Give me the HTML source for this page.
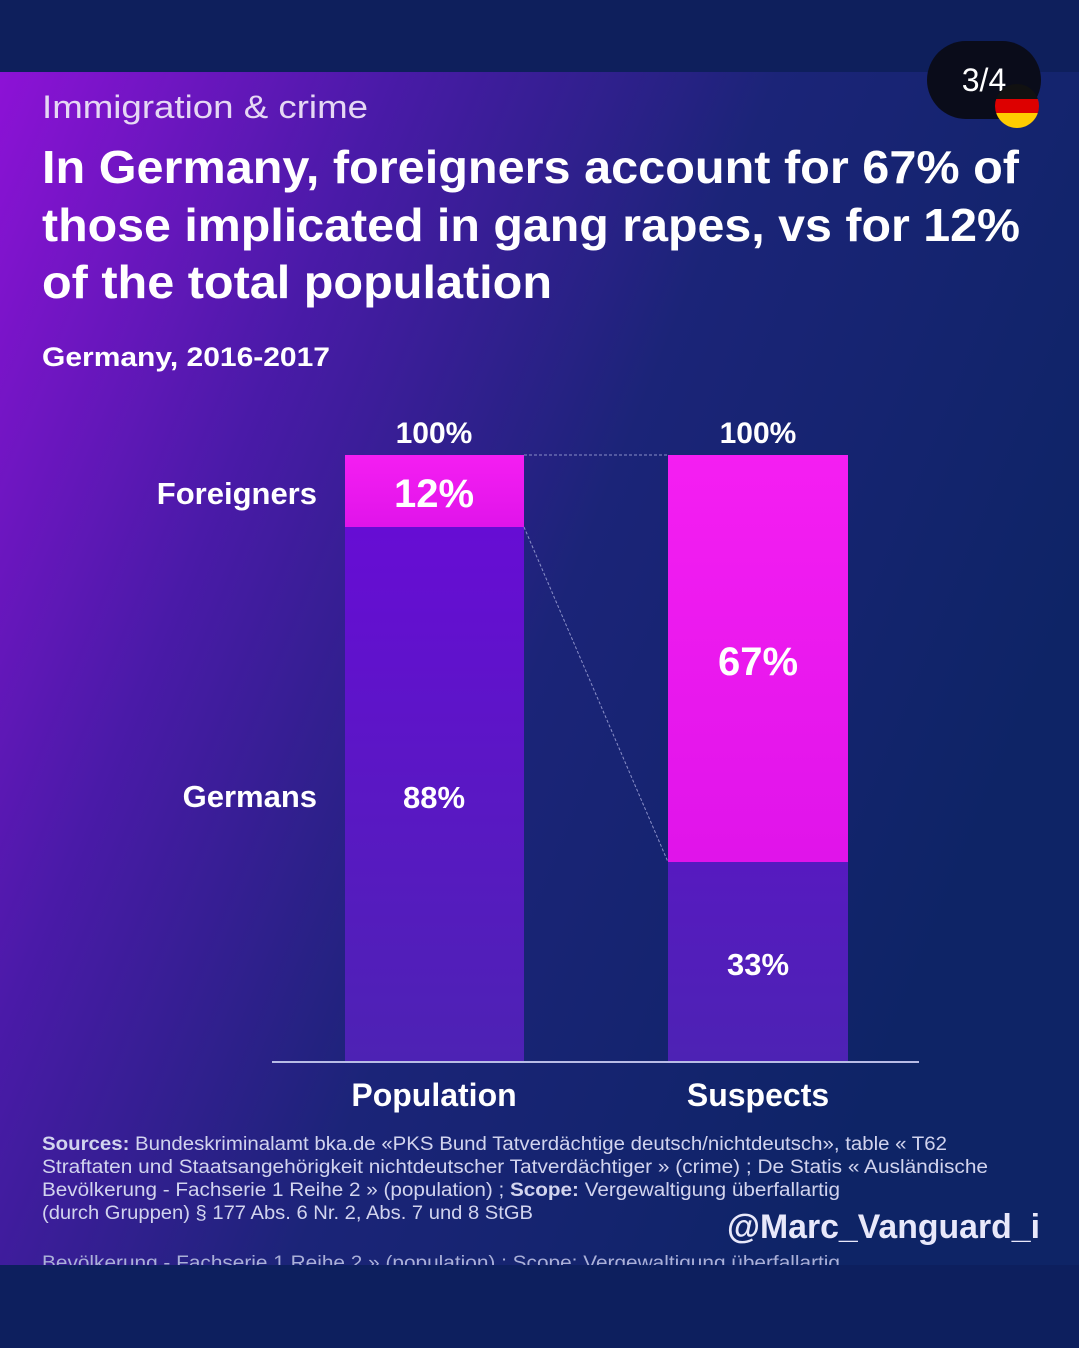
<!DOCTYPE html>
<html><head><meta charset="utf-8"><style>html,body{margin:0;padding:0;background:#0d1f5e}svg{display:block}</style></head>
<body>
<svg width="1079" height="1348" viewBox="0 0 1079 1348" xmlns="http://www.w3.org/2000/svg" font-family="Liberation Sans, sans-serif">
<defs>
<linearGradient id="bg" x1="0" y1="0" x2="1" y2="0.45">
<stop offset="0" stop-color="#8d12d6"/>
<stop offset="0.3" stop-color="#4a1aa8"/>
<stop offset="0.6" stop-color="#1b2478"/>
<stop offset="1" stop-color="#0e2466"/>
</linearGradient>
<linearGradient id="bar" x1="0" y1="0" x2="0" y2="1">
<stop offset="0" stop-color="#6a0ad8"/>
<stop offset="1" stop-color="#4d22b4"/>
</linearGradient>
<linearGradient id="pink" x1="0" y1="0" x2="0" y2="1">
<stop offset="0" stop-color="#f51ef2"/>
<stop offset="1" stop-color="#e014ea"/>
</linearGradient>
</defs>
<rect width="1079" height="1348" fill="#0d1f5e"/>
<rect x="0" y="0" width="1079" height="72" fill="#0e1f5c"/>
<rect x="0" y="72" width="1079" height="1193" fill="url(#bg)"/>
<rect x="927" y="41" width="114" height="78" rx="39" fill="#0a0c1a"/>
<text x="984" y="91" font-size="32" fill="#fff" text-anchor="middle">3/4</text>
<clipPath id="fc"><circle cx="1017" cy="106" r="22"/></clipPath>
<g clip-path="url(#fc)"><rect x="995" y="84" width="44" height="15" fill="#111"/><rect x="995" y="99" width="44" height="14" fill="#d00"/><rect x="995" y="113" width="44" height="15" fill="#fc0"/></g>
<g lengthAdjust="spacingAndGlyphs">
<text x="42" y="118" font-size="32" fill="#e6d8f4" textLength="326" lengthAdjust="spacingAndGlyphs">Immigration &amp; crime</text>
<g font-size="46" font-weight="bold" fill="#fff">
<text x="42" y="183" textLength="977" lengthAdjust="spacingAndGlyphs">In Germany, foreigners account for 67% of</text>
<text x="42" y="241" textLength="978" lengthAdjust="spacingAndGlyphs">those implicated in gang rapes, vs for 12%</text>
<text x="42" y="298" textLength="510" lengthAdjust="spacingAndGlyphs">of the total population</text>
</g>
<text x="42" y="366" font-size="27" font-weight="bold" fill="#fff" textLength="288" lengthAdjust="spacingAndGlyphs">Germany, 2016-2017</text>
</g>
<rect x="345" y="455" width="179" height="606" fill="url(#bar)"/>
<rect x="345" y="455" width="179" height="72" fill="url(#pink)"/>
<rect x="668" y="455" width="180" height="606" fill="url(#bar)"/>
<rect x="668" y="455" width="180" height="407" fill="url(#pink)"/>
<line x1="524" y1="455" x2="668" y2="455" stroke="#8a8fc8" stroke-dasharray="3,2" stroke-width="1"/>
<line x1="524" y1="527" x2="668" y2="862" stroke="#8a8fc8" stroke-dasharray="3,2" stroke-width="1"/>
<line x1="272" y1="1062" x2="919" y2="1062" stroke="#b8bce6" stroke-width="2"/>
<g font-weight="bold" fill="#fff" text-anchor="middle">
<text x="434" y="443" font-size="30">100%</text>
<text x="758" y="443" font-size="30">100%</text>
<text x="434" y="507" font-size="40">12%</text>
<text x="758" y="675" font-size="40">67%</text>
<text x="434" y="808" font-size="31">88%</text>
<text x="758" y="975" font-size="31">33%</text>
<text x="434" y="1106" font-size="32">Population</text>
<text x="758" y="1106" font-size="32">Suspects</text>
</g>
<g font-weight="bold" fill="#fff" text-anchor="end" font-size="31">
<text x="317" y="504">Foreigners</text>
<text x="317" y="807">Germans</text>
</g>
<g font-size="19" fill="#d2d4ee">
<text x="42" y="1150" textLength="905" lengthAdjust="spacingAndGlyphs"><tspan font-weight="bold">Sources:</tspan> Bundeskriminalamt bka.de «PKS Bund Tatverdächtige deutsch/nichtdeutsch», table « T62</text>
<text x="42" y="1173" textLength="946" lengthAdjust="spacingAndGlyphs">Straftaten und Staatsangehörigkeit nichtdeutscher Tatverdächtiger » (crime) ; De Statis « Ausländische</text>
<text x="42" y="1196" textLength="798" lengthAdjust="spacingAndGlyphs">Bevölkerung - Fachserie 1 Reihe 2 » (population) ; <tspan font-weight="bold">Scope:</tspan> Vergewaltigung überfallartig</text>
<text x="42" y="1219" textLength="491" lengthAdjust="spacingAndGlyphs">(durch Gruppen) § 177 Abs. 6 Nr. 2, Abs. 7 und 8 StGB</text>
</g>
<text x="1040" y="1238" font-size="34" font-weight="bold" fill="#e8e8fa" text-anchor="end" textLength="313" lengthAdjust="spacingAndGlyphs">@Marc_Vanguard_i</text>
<text x="42" y="1269" font-size="19" fill="#aab0d8" textLength="798" lengthAdjust="spacingAndGlyphs">Bevölkerung - Fachserie 1 Reihe 2 » (population) ; Scope: Vergewaltigung überfallartig</text>
<rect x="0" y="1265" width="1079" height="83" fill="#0d1f5e"/>
</svg>
</body></html>
